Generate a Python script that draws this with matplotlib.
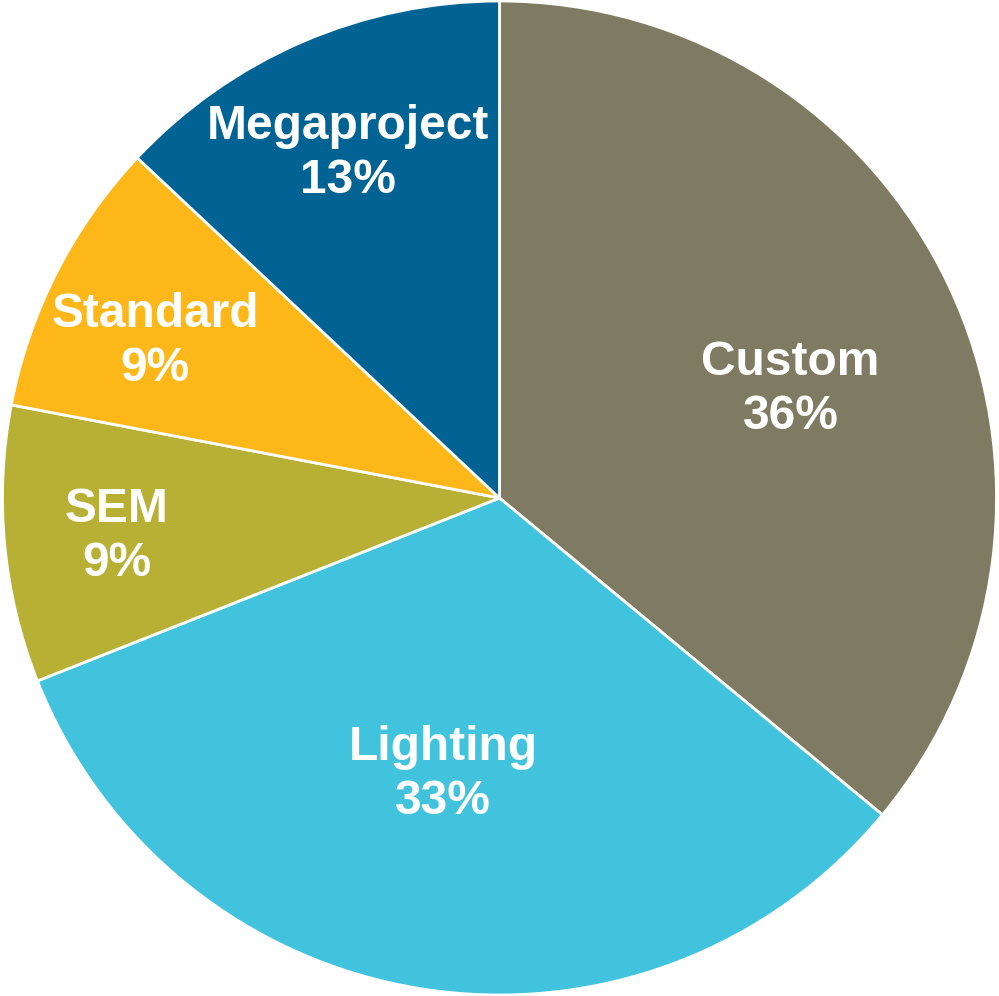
import numpy as np
import matplotlib.pyplot as plt

plt.rcParams['font.family'] = ['Liberation Sans', 'DejaVu Sans']

categories = ["Custom", "Lighting", "SEM", "Standard", "Megaproject"]
shares = [36, 33, 9, 9, 13]
colors = ['#7e7b62', '#42c3dd', '#b8af35', '#fdb718', '#006394']
# label placement: fraction of radius, and angle nudge (deg) off the wedge middle
label_r = [0.625, 0.567, 0.774, 0.761, 0.757]
label_nudge = [-4.8, -2.5, 0.3, 2.5, 0.4]

fig = plt.figure(figsize=(9.99, 9.96), dpi=100)
ax = fig.add_axes([0, 0, 1, 1])

wedges, _ = ax.pie(shares, colors=colors, startangle=90, counterclock=False,
                   radius=1.0, wedgeprops=dict(edgecolor='white', linewidth=2))

for w, name, val, r, d in zip(wedges, categories, shares, label_r, label_nudge):
    mid = np.deg2rad((w.theta1 + w.theta2) / 2 + d)
    ax.text(r * np.cos(mid), r * np.sin(mid), f"{name}\n{val}%",
            ha='center', va='center', color='white', fontsize=34.5,
            fontweight='bold', linespacing=1.25)

ax.set_xlim(-1.005, 1.005)
ax.set_ylim(-1.002, 1.002)
ax.set_aspect('equal')
ax.axis('off')

fig.savefig('out.png', dpi=100, facecolor='white')
